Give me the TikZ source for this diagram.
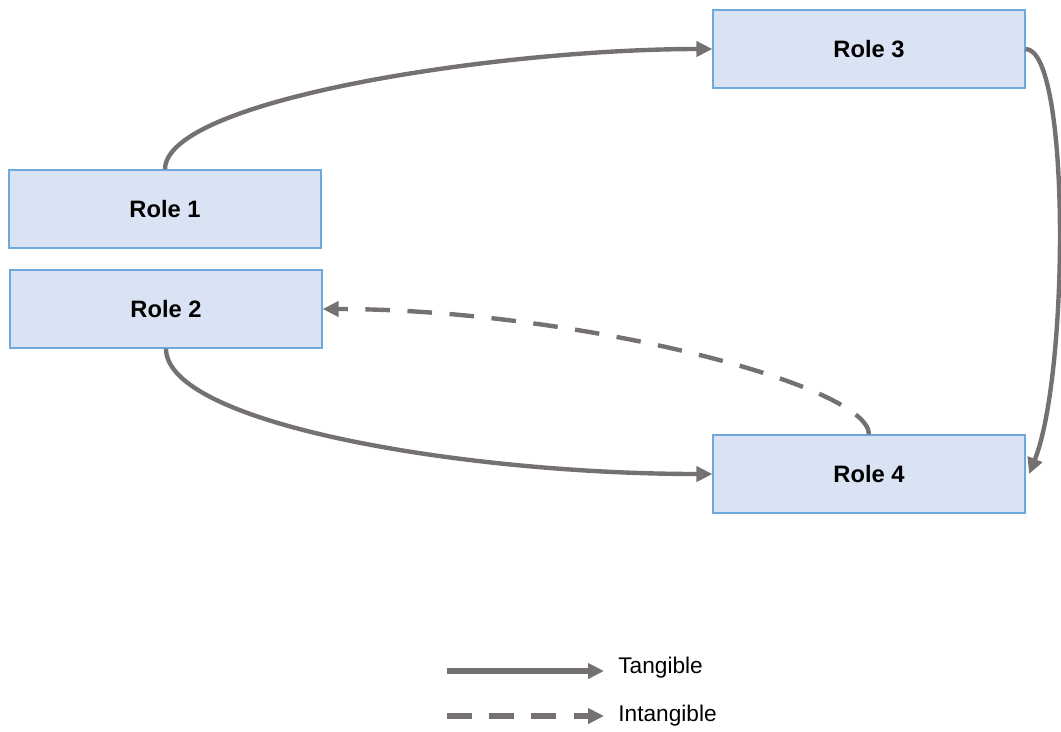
\documentclass[tikz,border=0pt]{standalone}
\usepackage{fontspec}
\setmainfont{Liberation Sans}
\usetikzlibrary{arrows.meta}
\definecolor{linegray}{HTML}{767171}
\definecolor{rolefill}{HTML}{DAE3F3}
\definecolor{roleline}{HTML}{6FA8DC}
\tikzset{
	role/.style={rectangle, fill=rolefill, draw=roleline, line width=0.7pt, minimum width=6.24cm, minimum height=1.56cm, font=\fontsize{13.5}{16}\selectfont\bfseries},
	tangible/.style={draw=linegray, line width=2.5pt, -{Triangle[length=0.32cm, width=0.3cm]}},
	intangible/.style={tangible, dash pattern=on 14pt off 10pt},
	legendtext/.style={anchor=west, inner sep=0pt, font=\fontsize{12.9}{15}\selectfont}
}

\begin{document}
\begin{tikzpicture}[x=0.02cm, y=-0.02cm]
		\useasboundingbox (0,0) rectangle (1061,731);
		\node[role] (r1) at (165,209){Role 1};
		\node[role] (r2) at (166,309){Role 2};
		\node[role] (r3) at (869,49){Role 3};
		\node[role] (r4) at (869,474){Role 4};
		\draw[tangible] (r1.north) .. controls +(0,-70) and +(-213,0) .. (r3.west);
		\draw[tangible] (r3.east) .. controls +(45,0) and +(40,-100) .. ([xshift=2pt]r4.east);
		\draw[tangible] (r2.south) .. controls +(0,75) and +(-250,0) .. (r4.west);
		\draw[intangible] (r4.north) .. controls +(0,-50) and +(250,0) .. (r2.east);
		% legend
		\coordinate (ta) at (447,671);
		\coordinate (tb) at (604,671);
		\coordinate (ia) at (447,716);
		\coordinate (ib) at (604,716);
		\draw[tangible, line width=3pt] (ta) -- (tb);
		\draw[intangible, line width=3pt] (ia) -- (ib);
		\node[legendtext] (tl) at (618,668){Tangible};
		\node[legendtext] (il) at (618,716){Intangible};
		\end{tikzpicture}
\end{document}
